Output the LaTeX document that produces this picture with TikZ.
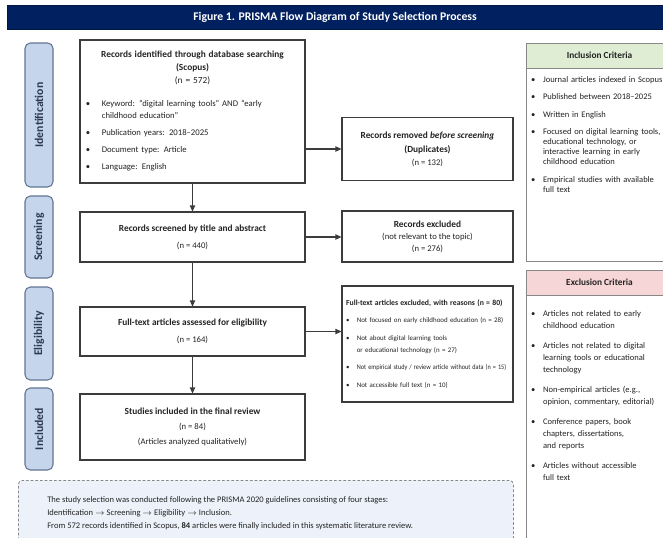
\documentclass[tikz,border=0pt]{standalone}
\usepackage{fontspec}
\setmainfont{Carlito}
\usepackage{tikz}
\usetikzlibrary{positioning,arrows.meta,calc}
\definecolor{prNavy}{RGB}{0,32,96}
\definecolor{prStage}{RGB}{197,214,236}
\definecolor{prStageLine}{RGB}{98,116,146}
\definecolor{prStageInk}{RGB}{45,55,80}
\definecolor{prInk}{RGB}{35,35,35}
\definecolor{prLine}{RGB}{60,60,60}
\definecolor{prGreen}{RGB}{222,237,212}
\definecolor{prPink}{RGB}{246,214,214}
\definecolor{prNote}{RGB}{236,241,250}
\definecolor{prGrey}{RGB}{135,135,135}

\newcommand{\pitem}[2][12pt]{\par\noindent\hangindent=#1\hangafter=1\makebox[#1][l]{\textbullet}#2}

\begin{document}
\begin{tikzpicture}[x=0.75pt, y=-0.75pt,
  titlebar/.style={fill=prNavy, draw=prNavy!70!black, line width=0.6pt, text=white,
                   font=\fontsize{8.8}{10}\selectfont\bfseries,
                   minimum width=492pt, minimum height=18pt},
  stagebox/.style={draw=prStageLine, line width=0.8pt, fill=prStage, rounded corners=4pt,
                   rotate=90, minimum height=21pt, inner sep=1pt,
                   font=\fontsize{8.8}{10}\selectfont\bfseries, text=prStageInk},
  flowbox/.style={draw=prLine, line width=0.8pt, fill=white, text=prInk,
                  minimum width=168.75pt, font=\fontsize{6.5}{9}\selectfont},
  sidebox/.style={draw=prLine, line width=0.8pt, fill=white, text=prInk,
                  minimum width=128.25pt, font=\fontsize{6.5}{9}\selectfont},
  critframe/.style={draw=prGrey, line width=0.6pt, fill=white, minimum width=110pt},
  crithead/.style={draw=prGrey, line width=0.6pt, minimum width=110pt, minimum height=18.75pt,
                   font=\fontsize{7}{9}\selectfont\bfseries, text=prInk},
  crittext/.style={inner sep=0pt, text width=140pt, align=left, text=prInk},
  notebox/.style={draw=prGrey, dash pattern=on 2pt off 1.5pt, line width=0.6pt, fill=prNote,
                  rounded corners=3pt, minimum width=371.25pt, minimum height=90pt},
  flowarr/.style={-{Triangle[length=4.5pt,width=4pt]}, line width=0.8pt, draw=prLine}
]
\fill[white] (0,0) rectangle (663,537);
\useasboundingbox (0,0) rectangle (663,537);
\clip (0,0) rectangle (663,537);
%% Title
\node[titlebar] (title) at (335,17) {Figure 1. PRISMA Flow Diagram of Study Selection Process};
%% Stage labels
\node[stagebox, minimum width=108pt]   (stIdent)  at (39,115)   {Identification};
\node[stagebox, minimum width=61.5pt]  (stScreen) at (39,237)   {Screening};
\node[stagebox, minimum width=69.75pt] (stElig)   at (39,333.5) {Eligibility};
\node[stagebox, minimum width=61.5pt]  (stIncl)   at (39,429)   {Included};
%% Main column
\node[flowbox, minimum height=107.25pt, text width=160pt, align=left,
      execute at begin node=\setlength{\parskip}{3.8pt}] (ident) at (192.5,111.5) {%
  {\centering\fontsize{7}{9.8}\selectfont\bfseries Records identified through database searching\\(Scopus)\\\mdseries (n = 572)\par}%
  \vspace{4pt}%
  \pitem{Keyword: ``digital learning tools'' AND ``early\newline childhood education''}%
  \pitem{Publication years: 2018--2025}%
  \pitem{Document type: Article}%
  \pitem{Language: English}\par\vspace{1pt}};
\node[flowbox, minimum height=37.5pt, align=center] (screen) at (192.5,237)
  {{\fontsize{7}{9}\selectfont\bfseries Records screened by title and abstract}\\[4pt](n = 440)};
\node[flowbox, minimum height=36.75pt, align=center] (elig) at (192.5,331.5)
  {{\fontsize{7}{9}\selectfont\bfseries Full-text articles assessed for eligibility}\\[3.5pt](n = 164)};
\node[flowbox, minimum height=49.5pt, align=center] (inclrev) at (192.5,427)
  {{\fontsize{7}{9}\selectfont\bfseries Studies included in the final review}\\[2.5pt](n = 84)\\[2.5pt](Articles analyzed qualitatively)};
\draw[flowarr] (ident) -- (screen);
\draw[flowarr] (screen) -- (elig);
\draw[flowarr] (elig) -- (inclrev);
%% Side column
\node[sidebox, minimum height=47.25pt, align=center] (removed) at (427.5,149)
  {{\fontsize{7}{9}\selectfont\bfseries Records removed \textit{before screening}}\\[1.5pt]{\fontsize{7}{9}\selectfont\bfseries (Duplicates)}\\[1pt](n = 132)};
\node[sidebox, minimum height=38.25pt, align=center] (excluded) at (427.5,236.5)
  {{\fontsize{7}{9}\selectfont\bfseries Records excluded}\\(not relevant to the topic)\\(n = 276)};
\node[sidebox, minimum height=87pt, text width=122pt, inner xsep=3pt, align=left,
      font=\fontsize{5.2}{9.5}\selectfont,
      execute at begin node=\setlength{\parskip}{3.4pt}] (ftexcl) at (427.5,344) {%
  {\fontsize{5.8}{9.5}\selectfont\bfseries Full-text articles excluded, with reasons (n = 80)\par}%
  \pitem[8pt]{Not focused on early childhood education (n = 28)}%
  \pitem[8pt]{Not about digital learning tools\newline or educational technology (n = 27)}%
  \pitem[8pt]{\resizebox{112pt}{\height}{Not empirical study / review article without data (n = 15)}}%
  \pitem[8pt]{Not accessible full text (n = 10)}\par};
\draw[flowarr] (removed.west -| ident.east) -- (removed.west);
\draw[flowarr] (screen.east) -- (screen.east -| excluded.west);
\draw[flowarr] (elig.east) -- (elig.east -| ftexcl.west);
%% Inclusion criteria
\node[critframe, minimum height=163.5pt] (incframe) at (599.5,152) {};
\node[crithead, fill=prGreen, anchor=north] (inchead) at (incframe.north) {Inclusion Criteria};
\node[crittext, anchor=north west, font=\fontsize{6.4}{7.6}\selectfont,
      execute at begin node=\setlength{\parskip}{5.5pt}] (inctext)
  at ($(inchead.south west)+(5,-4)$) {%
  \pitem[9pt]{Journal articles indexed in Scopus}%
  \pitem[9pt]{Published between 2018--2025}%
  \pitem[9pt]{Written in English}%
  \pitem[9pt]{Focused on digital learning tools,\newline educational technology, or\newline interactive learning in early\newline childhood education}%
  \pitem[9pt]{Empirical studies with available\newline full text}\par};
%% Exclusion criteria
\node[critframe, minimum height=217.5pt] (excframe) at (599.5,415) {};
\node[crithead, fill=prPink, anchor=north] (exchead) at (excframe.north) {Exclusion Criteria};
\node[crittext, anchor=north west, font=\fontsize{6.4}{9}\selectfont,
      execute at begin node=\setlength{\parskip}{6pt}] (exctext)
  at ($(exchead.south west)+(5,1)$) {%
  \pitem[9pt]{Articles not related to early\newline childhood education}%
  \pitem[9pt]{Articles not related to digital\newline learning tools or educational\newline technology}%
  \pitem[9pt]{Non-empirical articles (e.g.,\newline opinion, commentary, editorial)}%
  \pitem[9pt]{Conference papers, book\newline chapters, dissertations,\newline and reports}%
  \pitem[9pt]{Articles without accessible\newline full text}\par};
%% Summary note
\node[notebox, anchor=north west] (note) at (18,480) {};
\node[inner sep=0pt, anchor=north west, align=left, text=prInk,
      font=\fontsize{6.4}{10}\selectfont] (notetext) at (47,496)
  {The study selection was conducted following the PRISMA 2020 guidelines consisting of four stages:\\
   Identification $\rightarrow$ Screening $\rightarrow$ Eligibility $\rightarrow$ Inclusion.\\
   From 572 records identified in Scopus, \textbf{84} articles were finally included in this systematic literature review.};
\end{tikzpicture}
\end{document}
